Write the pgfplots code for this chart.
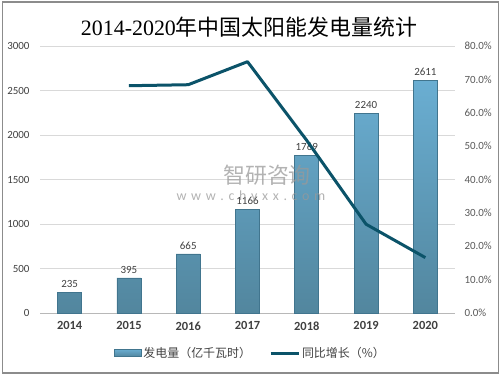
\documentclass[border=0pt]{standalone}
\usepackage{pgfplots}
\pgfplotsset{compat=1.18}
\usepackage{fontspec}
\setmainfont{Carlito}
\newfontfamily\cjk{Noto Sans CJK SC}
\newfontfamily\titleserif{Liberation Serif}
\definecolor{bartop}{HTML}{6AAED2}
\definecolor{barbot}{HTML}{52869E}
\definecolor{baredge}{HTML}{41758E}
\definecolor{linec}{HTML}{0B5369}
\definecolor{gridc}{HTML}{D9D9D9}
\definecolor{tickc}{HTML}{404040}
\definecolor{tickr}{HTML}{595959}
\pgfplotsset{/pgf/number format/assume math mode=true}
\begin{document}
\begin{tikzpicture}[x=1bp,y=1bp]
\useasboundingbox (0,0) rectangle (501,376);
\draw[color=gray!90, line width=1.2bp] (2.5,3) rectangle (498.5,374);
\node[font={\fontsize{22}{26}\selectfont}, anchor=center] at (249,349) {\titleserif 2014-2020\cjk 年中国太阳能发电量统计};

\begin{axis}[
  at={(40bp,63bp)}, anchor=south west, scale only axis,
  width=415bp, height=267bp,
  xmin=-0.5, xmax=6.5, ymin=0, ymax=3000,
  xtick={0,...,6}, xticklabels={2014,2015,2016,2017,2018,2019,2020},
  ytick={0,500,...,3000},
  scaled y ticks=false,
  /pgf/number format/1000 sep={},
  ymajorgrids, grid style={gridc, line width=0.8bp},
  separate axis lines,
  axis x line*=bottom, x axis line style={draw=gridc!85!black, line width=0.8bp, -},
  axis y line*=left, y axis line style={draw=none},
  major tick length=0pt,
  yticklabel style={font={\fontsize{11}{13}\selectfont}, text=tickc, xshift=-7bp},
  xticklabel style={font={\fontsize{12.5}{14}\selectfont\bfseries}, text=tickc, yshift=-5bp},
]
\addplot[ybar, bar width=24bp, top color=bartop, bottom color=barbot, draw=baredge, line width=0.6bp,
  nodes near coords, nodes near coords style={font={\fontsize{11}{13}\selectfont}, text=tickc, yshift=1bp}]
  coordinates {(0,235) (1,395) (2,665) (3,1166) (4,1769) (5,2240) (6,2611)};
\end{axis}

\begin{axis}[
  at={(40bp,63bp)}, anchor=south west, scale only axis,
  width=415bp, height=267bp,
  xmin=-0.5, xmax=6.5, ymin=0, ymax=80,
  axis x line=none,
  axis y line*=right, y axis line style={draw=none},
  major tick length=0pt,
  ytick={0,10,...,80},
  yticklabel={\pgfmathprintnumber[fixed,fixed zerofill,precision=1]{\tick}\%},
  yticklabel style={font={\fontsize{11}{13}\selectfont}, text=tickr, xshift=6bp},
  legend style={at={(0.507,-0.15)}, anchor=center, draw=none, fill=none,
    legend columns=2, font={\fontsize{12}{14}\selectfont\cjk}, text=tickc,
    /tikz/every even column/.append style={column sep=16bp}},
  legend cell align=left,
]
\addlegendimage{legend image code/.code={\path[top color=bartop,bottom color=barbot,draw=baredge] (0bp,-3.5bp) rectangle (27bp,4bp);}}
\addlegendentry{发电量（亿千瓦时）}
\addplot[linec, line width=3bp, line join=round, legend image code/.code={\draw[linec, line width=3bp] (0bp,0bp) -- (28bp,0bp);}]
  coordinates {(1,68.1) (2,68.4) (3,75.3) (4,51.7) (5,26.6) (6,16.6)};
\addlegendentry{同比增长（\%）}
\end{axis}

\node[font={\fontsize{22}{24}\selectfont\cjk}, text=gray!80, opacity=0.75, inner sep=0pt] at (267,201) {智研咨询};
\node[font={\fontsize{14}{16}\selectfont}, text=gray!80, opacity=0.75, inner sep=0pt] at (251,179) {w\,\,w\,\,w\,\,.\,\,c\,\,h\,\,y\,\,x\,\,x\,\,.\,\,c\,\,o\,\,m};
\end{tikzpicture}
\end{document}
